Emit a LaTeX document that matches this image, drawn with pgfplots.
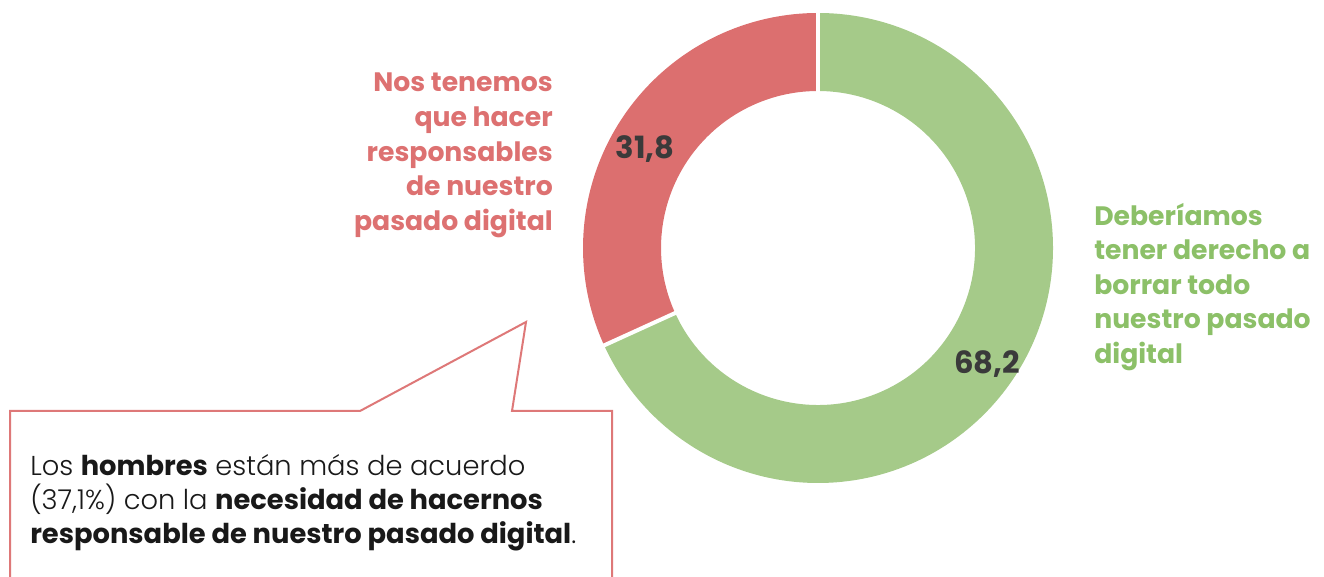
\documentclass[border=0pt]{standalone}
\usepackage{pgfplots}
\pgfplotsset{compat=1.18}
\usepackage{fontspec}
\setmainfont{Poppins}
\newfontfamily\lightfont{Poppins Light}[BoldFont={Poppins Bold}]
\definecolor{redF}{RGB}{220,111,111}
\definecolor{greenF}{RGB}{165,202,137}
\definecolor{redT}{RGB}{221,113,113}
\definecolor{greenT}{RGB}{140,192,104}
\definecolor{numT}{RGB}{58,58,58}
\definecolor{boxR}{RGB}{222,120,120}
\begin{document}
\begin{tikzpicture}
% data: share (%) of each answer
\def\valGreen{68.2}
\def\valRed{31.8}
\pgfmathsetmacro{\aEnd}{90-3.6*\valGreen}
\pgfmathsetmacro{\aEndIn}{\aEnd+180}
\def\R{176.25pt}
\def\r{117.75pt}
\def\w{58.5pt}
\begin{axis}[x=0.75pt,y=0.75pt,xmin=0,xmax=1324,ymin=0,ymax=577,hide axis,clip=true]
\path (axis cs:0,0) rectangle (axis cs:1324,577);
% donut
\fill[greenF] (axis cs:818,329) ++(90:\R) arc[start angle=90,end angle=\aEnd,radius=\R]
   -- ++(\aEndIn:\w) arc[start angle=\aEnd,end angle=90,radius=\r] -- cycle;
\fill[redF] (axis cs:818,329) ++(\aEnd:\R) arc[start angle=\aEnd,end angle=-270,radius=\R]
   -- ++(-90:\w) arc[start angle=-270,end angle=\aEnd,radius=\r] -- cycle;
\draw[white,line width=3pt] (axis cs:818,329) ++(90:110pt) -- ++(90:72pt);
\draw[white,line width=3pt] (axis cs:818,329) ++(\aEnd:110pt) -- ++(\aEnd:72pt);
% values
\node[anchor=base,inner sep=0,text=numT,font=\bfseries\fontsize{23}{25}\selectfont] at (axis cs:645,418) {31,8};
\node[anchor=base,inner sep=0,text=numT,font=\bfseries\fontsize{23}{25}\selectfont] at (axis cs:987,203) {68,2};
% category labels
\node[anchor=north east,inner sep=0,align=right,text=redT,font=\bfseries\fontsize{20}{25.9}\selectfont] at (axis cs:553,504)
  {Nos tenemos\\que hacer\\responsables\\de nuestro\\pasado digital};
\node[anchor=north west,inner sep=0,align=left,text=greenT,font=\bfseries\fontsize{20}{25.9}\selectfont] at (axis cs:1094,374)
  {Deberíamos\\tener derecho a\\borrar todo\\nuestro pasado\\digital};
% callout
\draw[boxR,line width=1.5pt,fill=white] (axis cs:10,-5) -- (axis cs:10,166) -- (axis cs:360,166) -- (axis cs:526,255)
  -- (axis cs:512,166) -- (axis cs:612,166) -- (axis cs:612,-5);
\node[anchor=north west,inner sep=0,align=left,text=black!90,font=\lightfont\fontsize{20.5}{25.5}\selectfont] at (axis cs:30,123)
  {Los \textbf{hombres} están más de acuerdo\\(37,1\%) con la \textbf{necesidad de hacernos}\\\textbf{responsable de nuestro pasado digital}.};
\end{axis}
\end{tikzpicture}
\end{document}
